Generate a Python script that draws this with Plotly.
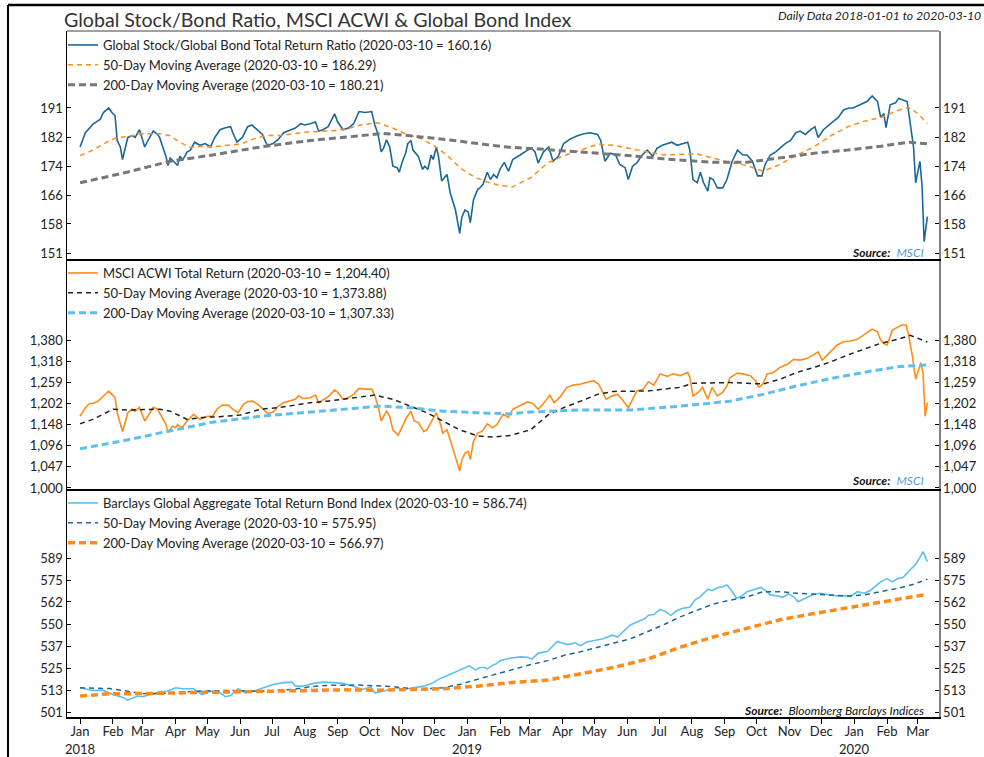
import pandas as pd
import plotly.graph_objects as go

START = pd.Timestamp("2018-01-01")

# ---------------- Panel 1: Global Stock/Bond ratio ----------------
ratio_days = [0,5,9,12,16,19,22,25,27,30,33,35,38,40,42,45,49,52,56,58,61,64,69,73,75,78,81,83,85,88,92,94,97,101,104,108,113,118,123,127,132,137,142,144,148,153,158,162,167,172,175,177,182,187,192,198,203,208,212,217,222,225,229,234,240,243,248,253,258,263,269,275,278,281,284,286,289,292,295,299,301,304,307,309,312,314,319,323,325,328,331,333,336,338,341,346,349,354,358,360,363,366,368,371,375,377,380,384,387,390,393,396,400,404,408,415,422,426,429,432,437,442,446,451,456,462,469,475,481,488,491,495,500,505,509,514,517,521,525,530,535,540,544,549,554,558,563,568,573,575,578,582,585,588,592,594,597,601,606,610,615,620,625,629,634,639,643,646,651,656,660,665,670,675,679,684,689,693,696,701,706,710,715,720,725,729,736,742,747,752,755,758,760,764,769,772,776,780,783,786,788,791,792,794,796,799]
ratio_vals = [179.3,183.5,184.9,186,186.9,187.5,189.6,190.4,191,189.6,188.6,181.2,179.3,175.7,178.4,182.1,182.6,182.1,184.4,182.6,179.3,181.2,184,183,182.1,179.3,176.6,174,176.1,175.2,174,176.6,175.7,177.9,178.4,180.7,179.8,180.3,179.3,182.1,184.4,185,185.3,183.5,180.7,182.1,185.3,185.8,184.4,183,180.7,179.8,180.3,181.6,183.5,184.4,184.9,186.2,185.8,186.2,186.7,184,184.4,185.3,189.2,186.7,184.4,184.9,186.2,189.9,189.6,189.9,185.8,183,177.9,178.8,181.4,179.3,173.8,173.4,172.1,175.2,177.5,180.3,181.2,178.4,176.6,172.9,173.8,172.9,177,175.7,179.3,176.6,169.7,171.5,166.5,161.9,155.9,160,161.9,161.4,158.6,164.6,167.4,167.8,168.8,172.1,170.1,171.5,170.6,172.9,174.9,172.4,175.7,177,178.4,178.9,177.9,174.7,177.9,179.3,175.2,176.6,180.3,181.6,182.6,183.2,183.5,183,181.2,175.2,177.5,177,174.3,173.4,170.1,173.8,174.7,177,178.4,176.6,178.9,179.8,180.3,180.7,179.8,180.3,180.7,178.4,170.1,169.2,172.1,169.2,166.9,170.6,170.1,167.8,167.8,170.1,175.2,178.4,177,177,175.2,171.1,171.1,174.3,177,177.9,178.9,180.3,181.2,183.5,184,183,184.4,185.3,182.1,184.4,185.8,186.7,188.1,190.4,191,191,192,193,194.8,193,188.1,189.3,185,192,192.6,194,193.5,193,186,179.3,169.2,173.8,175.2,168.4,153.8,160.16]

ratio_ma50_days = [0,12,28,35,44,59,75,85,94,104,113,125,139,151,163,176,189,201,214,226,239,252,264,280,295,308,321,333,346,358,371,384,396,408,425,441,456,472,488,503,519,535,550,566,582,597,613,629,644,660,676,692,708,724,739,755,771,781,790,799]
ratio_ma50_vals = [176.8,178.4,181.2,182.1,182.3,183.2,183.2,182.6,180.7,179.2,179.5,179.3,179.8,180.1,181.6,182.7,182.7,183.2,183.7,183.9,184.1,184.7,185.8,186.5,184.9,183,181.8,179.8,177,173.4,170.9,169.4,168.5,168.1,170.6,174.7,176.8,178.4,180.1,179.8,178.9,177.9,177,177.2,177.3,176.1,174.9,174,172.4,174.3,177,179.3,182.6,185.3,186.9,188.1,190.2,191.2,189.3,186.29]

ratio_ma200_days = [0,44,85,125,170,217,264,286,311,342,375,405,425,472,519,550,597,629,660,692,724,755,781,799]
ratio_ma200_vals = [169.2,172.1,175.2,177,179.3,181.2,182.6,183.3,182.6,181.6,180.3,179.2,178.9,177.9,176.8,175.9,174.9,174.9,176.1,177.5,178.4,179.5,180.7,180.21]

# ---------------- Panel 2: MSCI ACWI ----------------
acwi_days = [0,5,9,12,17,22,27,30,33,35,40,42,45,49,52,56,58,61,64,69,73,77,81,83,87,90,92,96,101,107,113,120,125,129,134,140,144,149,154,158,163,168,173,177,182,187,192,198,203,206,210,217,222,225,231,235,240,243,248,253,258,263,269,275,278,281,284,286,289,292,295,300,304,308,312,315,319,324,327,331,333,336,340,342,346,351,354,358,360,363,366,368,371,375,379,384,389,393,399,404,408,415,422,427,432,437,443,447,453,459,465,472,478,484,489,492,496,502,507,511,517,521,525,531,536,541,547,554,559,566,573,575,578,583,587,592,596,601,606,610,613,620,625,632,637,640,644,648,654,660,667,673,679,686,692,696,700,705,709,714,720,726,733,739,747,752,755,758,761,766,771,775,779,781,785,788,791,793,795,797,799]
acwi_vals = [1169,1191,1202,1202,1208,1222,1235,1226,1217,1178,1131,1148,1178,1187,1182,1192,1178,1157,1169,1192,1187,1169,1148,1128,1144,1140,1148,1140,1157,1174,1161,1169,1169,1187,1198,1197,1187,1178,1199,1207,1208,1199,1187,1176,1180,1195,1204,1208,1213,1222,1215,1217,1224,1204,1215,1222,1238,1231,1213,1217,1226,1242,1240,1240,1222,1195,1157,1166,1182,1169,1135,1122,1144,1166,1182,1157,1153,1131,1135,1153,1161,1178,1148,1127,1135,1094,1071,1038,1063,1079,1083,1064,1107,1127,1131,1150,1140,1148,1174,1166,1187,1197,1206,1202,1187,1202,1224,1204,1220,1245,1251,1254,1258,1263,1254,1235,1213,1222,1226,1213,1191,1213,1235,1240,1260,1251,1282,1275,1282,1277,1286,1272,1222,1231,1245,1213,1245,1222,1231,1249,1272,1284,1282,1277,1263,1245,1254,1282,1286,1300,1309,1323,1321,1326,1336,1345,1321,1336,1350,1365,1375,1377,1382,1395,1413,1405,1380,1370,1365,1410,1420,1426,1426,1400,1331,1267,1296,1313,1282,1169,1204.4]

acwi_ma50_days = [0,12,31,44,75,85,101,116,132,151,170,186,201,217,233,248,264,278,295,311,327,342,358,375,390,405,425,441,456,472,488,503,519,535,550,566,578,597,613,629,644,660,676,692,708,724,739,755,771,783,799]
acwi_ma50_vals = [1150,1161,1187,1185,1187,1182,1161,1166,1168,1172,1187,1191,1197,1204,1208,1213,1220,1224,1213,1195,1178,1157,1135,1120,1117,1121,1135,1172,1191,1208,1226,1234,1235,1235,1240,1245,1256,1258,1258,1256,1254,1267,1286,1300,1316,1336,1352,1370,1382,1394,1373.88]

acwi_ma200_days = [0,44,82,123,170,217,264,283,311,342,375,405,425,472,519,566,613,644,676,708,739,771,799]
acwi_ma200_vals = [1089,1110,1131,1153,1169,1180,1191,1195,1191,1182,1178,1175,1180,1185,1185,1195,1208,1226,1249,1269,1286,1302,1307.33]

# ---------------- Panel 3: Barclays Global Aggregate ----------------
bond_days = [0,9,12,22,31,41,45,54,59,66,75,82,90,97,107,115,123,130,137,142,149,156,163,173,182,192,200,203,210,220,229,239,248,258,266,274,278,283,291,299,305,314,324,332,338,346,354,361,367,373,377,382,384,389,392,396,404,415,422,426,432,441,445,450,455,460,467,472,478,486,493,502,507,512,519,526,533,536,541,547,552,557,563,569,575,580,585,592,596,601,606,610,614,619,623,629,635,642,646,651,658,663,668,673,677,684,692,698,706,714,722,726,733,739,745,750,755,761,766,771,776,783,788,792,795,799]
bond_vals = [513.9,513,512.5,512.5,510.3,508.6,507.3,509.5,509.1,510.3,511.6,512,513.9,513.4,513.4,510.3,512,512,509.1,509.8,513.4,511.2,512,513.9,515.7,516.7,517,514.8,514.8,516.3,517,516.7,516.3,514.8,513,514.3,511.2,511.6,512.6,513.9,513,513.9,514.8,516.3,518.5,520.4,522.6,524.1,525.9,523.7,525,525,524.1,526.3,526.9,528.7,530,530.9,530.6,529.6,533,534,536.3,539.6,538.6,537.8,538.8,537.2,539.2,540.1,541.1,543.1,542.1,545.1,549,551,552.8,554.6,555,558,556.9,554.6,557.4,558.8,559.3,563.7,565.6,570,569.1,570.9,571.5,572.5,569.5,564.6,565.5,568.5,569.5,571.1,569.5,566.6,566,565.2,567.2,565.5,562.6,564.6,567,567.6,566.6,566,566,565.5,568.5,567.6,569.1,571.5,574.4,576.4,574.4,576.4,577,581.8,585.2,589.4,593,586.74]

bond_ma50_days = [0,28,59,75,107,139,170,201,217,233,264,295,311,327,342,358,377,393,408,425,441,456,472,488,503,519,535,550,566,582,597,613,629,644,660,676,692,708,724,739,755,771,786,799]
bond_ma50_vals = [513.9,513.5,510.8,510.7,512,512.5,512,513,514.5,515.2,515.4,514.5,513.5,513.4,513.9,515.7,518.9,521.4,524.1,526.6,528.8,531.6,533.8,536.3,538.8,541.1,545.1,549,553.7,557.4,561.2,563.5,565.5,568.5,568.5,567.6,567.2,566.6,566,566.6,568.5,570.5,573,575.95]

bond_ma200_days = [0,28,59,91,123,154,186,217,248,280,311,342,375,405,441,472,503,535,566,597,629,660,692,724,755,771,799]
bond_ma200_vals = [509.5,510.7,510.8,511.2,511.7,512,512.5,512.6,512.8,512.6,513,513.4,514.8,516.7,518.1,521.4,525,529.6,536.3,542.1,547.1,552,555.6,559,562,564,566.97]

# ---------------- Axis ticks ----------------
p1_tickvals = [151, 158.27, 165.88, 173.86, 182.23, 191.0]
p1_ticktext = ["151", "158", "166", "174", "182", "191"]
p2_tickvals = [1000, 1047.1, 1096.4, 1148.0, 1202.1, 1258.7, 1318.0, 1380.0]
p2_ticktext = ["1,000", "1,047", "1,096", "1,148", "1,202", "1,259", "1,318", "1,380"]
p3_tickvals = [501, 512.72, 524.71, 536.98, 549.54, 562.40, 575.2, 589.0]
p3_ticktext = ["501", "513", "525", "537", "550", "562", "575", "589"]

month_ticks = pd.date_range("2018-01-01", "2020-03-01", freq="MS")
month_labels = ["Jan", "Feb", "Mar", "Apr", "May", "Jun", "Jul", "Aug", "Sep", "Oct", "Nov", "Dec",
                "Jan", "Feb", "Mar", "Apr", "May", "Jun", "Jul", "Aug", "Sep", "Oct", "Nov", "Dec",
                "Jan", "Feb", "Mar"]
year_ticks = ["2018-01-01", "2019-01-01", "2020-01-01"]
year_labels = ["2018", "2019", "2020"]

legend_names_1 = ["Global Stock/Global Bond Total Return Ratio (2020-03-10 = 160.16)",
                  "50-Day Moving Average (2020-03-10 = 186.29)",
                  "200-Day Moving Average (2020-03-10 = 180.21)"]
legend_names_2 = ["MSCI ACWI Total Return (2020-03-10 = 1,204.40)",
                  "50-Day Moving Average (2020-03-10 = 1,373.88)",
                  "200-Day Moving Average (2020-03-10 = 1,307.33)"]
legend_names_3 = ["Barclays Global Aggregate Total Return Bond Index (2020-03-10 = 586.74)",
                  "50-Day Moving Average (2020-03-10 = 575.95)",
                  "200-Day Moving Average (2020-03-10 = 566.97)"]

BLUE = "#1B6898"
ORANGE = "#FF8C1A"
GRAY = "#777777"
LIGHT = "#5BC0F0"
DARK = "#222222"
FONT = "Lato, 'Open Sans', sans-serif"


def dates(days):
    return START + pd.to_timedelta(days, unit="D")


fig = go.Figure()

def add(days, vals, name, color, width, dash, xa, ya, leg):
    fig.add_trace(go.Scatter(x=dates(days), y=vals, mode="lines", name=name,
                             line=dict(color=color, width=width, dash=dash),
                             xaxis=xa, yaxis=ya, legend=leg, hoverinfo="skip"))

THIN = "5px,4px"
THICK = "7px,4px"
# panel 1 (top) -> x3 / y3
add(ratio_days, ratio_vals, legend_names_1[0], BLUE, 1.6, "solid", "x3", "y3", "legend")
add(ratio_ma50_days, ratio_ma50_vals, legend_names_1[1], ORANGE, 1.5, THIN, "x3", "y3", "legend")
add(ratio_ma200_days, ratio_ma200_vals, legend_names_1[2], GRAY, 3, THICK, "x3", "y3", "legend")
# panel 2 (middle) -> x2 / y2
add(acwi_days, acwi_vals, legend_names_2[0], ORANGE, 1.6, "solid", "x2", "y2", "legend2")
add(acwi_ma50_days, acwi_ma50_vals, legend_names_2[1], DARK, 1.5, THIN, "x2", "y2", "legend2")
add(acwi_ma200_days, acwi_ma200_vals, legend_names_2[2], LIGHT, 3, THICK, "x2", "y2", "legend2")
# panel 3 (bottom) -> x / y
add(bond_days, bond_vals, legend_names_3[0], LIGHT, 1.6, "solid", "x", "y", "legend3")
add(bond_ma50_days, bond_ma50_vals, legend_names_3[1], BLUE, 1.5, THIN, "x", "y", "legend3")
add(bond_ma200_days, bond_ma200_vals, legend_names_3[2], ORANGE, 3.5, THICK, "x", "y", "legend3")

W, H = 984, 757
L, R, T, B = 67, 939, 31, 717
pw, ph = R - L, B - T

def py(p):
    return (B - p) / ph

def px(p):
    return (p - L) / pw

xrange = ["2017-12-19 16:00", "2020-03-21"]
d1 = [py(259), 1.0]
d2 = [py(489), py(259)]
d3 = [0.0, py(489)]

tickfont = dict(family=FONT, size=13, color="#222222")

def yax(domain, anchor, rng, tv, tt, side="left", overlaying=None, linecolor="black"):
    ax = dict(type="log", range=rng, autorange=False, domain=domain, anchor=anchor,
              tickvals=tv, ticktext=tt, ticks="inside", ticklen=4, tickcolor="black",
              showline=True, linecolor=linecolor, linewidth=1.5, showgrid=False,
              zeroline=False, side=side, tickfont=tickfont, fixedrange=True, automargin=False)
    if overlaying:
        ax["overlaying"] = overlaying
    return ax

r1 = [2.17476, 2.33522]
r2 = [2.99905, 3.21644]
r3 = [2.69756, 2.80161]

fig.update_layout(
    width=W, height=H,
    margin=dict(l=L, r=W - R, t=T, b=H - B, autoexpand=False),
    paper_bgcolor="white", plot_bgcolor="white",
    font=dict(family=FONT, size=13, color="#222222"),
    xaxis=dict(domain=[0, 1], anchor="y", range=xrange, tickvals=month_ticks, ticktext=month_labels,
               ticks="outside", ticklen=5, tickcolor="black", showline=True, linecolor="black",
               linewidth=1.5, showgrid=False, zeroline=False, tickfont=tickfont, tickangle=0,
               automargin=False, fixedrange=True, ticklabelstandoff=-3),
    xaxis2=dict(domain=[0, 1], anchor="y2", matches="x", range=xrange, showticklabels=False,
                ticks="", showline=True, linecolor="black", linewidth=1.5, showgrid=False),
    xaxis3=dict(domain=[0, 1], anchor="y3", matches="x", range=xrange, showticklabels=False,
                ticks="", showline=True, linecolor="black", linewidth=1.5, showgrid=False),
    yaxis=yax(d3, "x", r3, p3_tickvals, p3_ticktext),
    yaxis2=yax(d2, "x2", r2, p2_tickvals, p2_ticktext),
    yaxis3=yax(d1, "x3", r1, p1_tickvals, p1_ticktext),
    yaxis4=yax(d3, "x", r3, p3_tickvals, p3_ticktext, side="right", overlaying="y", linecolor="#808080"),
    yaxis5=yax(d2, "x2", r2, p2_tickvals, p2_ticktext, side="right", overlaying="y2", linecolor="#808080"),
    yaxis6=yax(d1, "x3", r1, p1_tickvals, p1_ticktext, side="right", overlaying="y3", linecolor="#808080"),
    showlegend=True,
)

legfont = dict(family=FONT, size=13, color="#222222")
for key, top in [("legend", 30), ("legend2", 258), ("legend3", 488)]:
    fig.update_layout(**{key: dict(x=px(63), xanchor="left", y=py(top), yanchor="top",
                                   bgcolor="rgba(0,0,0,0)", borderwidth=0, font=legfont,
                                   itemwidth=30, tracegroupgap=0, traceorder="normal")})

# invisible traces to activate the right-hand axes
for ya, xa, v in [("y4", "x", bond_vals[0]), ("y5", "x2", acwi_vals[0]), ("y6", "x3", ratio_vals[0])]:
    fig.add_trace(go.Scatter(x=[dates([0])[0]], y=[v], mode="markers", marker=dict(opacity=0),
                             xaxis=xa, yaxis=ya, showlegend=False, hoverinfo="skip"))

# frame lines
fig.add_shape(type="line", xref="paper", yref="paper", x0=0, x1=1, y0=1, y1=1,
              line=dict(color="#808080", width=1.5))
fig.add_shape(type="line", xref="paper", yref="paper", x0=px(8), x1=px(984), y0=py(5), y1=py(5),
              line=dict(color="black", width=2.5))
fig.add_shape(type="line", xref="paper", yref="paper", x0=px(8), x1=px(8), y0=py(5), y1=py(757),
              line=dict(color="black", width=2))

# year labels under January ticks
for yt, yl in zip(year_ticks, year_labels):
    fig.add_annotation(text=yl, xref="x", yref="paper", x=yt, y=py(749), xanchor="center",
                       yanchor="middle", showarrow=False, font=tickfont, borderpad=0)

# title & subtitle
fig.add_annotation(text="Global Stock/Bond Ratio, MSCI ACWI & Global Bond Index", xref="paper", yref="paper",
                   x=px(62), y=py(19), xanchor="left", yanchor="middle", showarrow=False,
                   font=dict(family=FONT, size=19.6, color="#333333"))
fig.add_annotation(text="<i>Daily Data 2018-01-01 to 2020-03-10</i>", xref="paper", yref="paper",
                   x=px(982), y=py(16), xanchor="right", yanchor="middle", showarrow=False,
                   font=dict(family=FONT, size=12.2, color="#222222"), borderpad=0)

# sources
src_msci = "<b><i>Source:</i></b>  <i><span style='color:#5B9BD5'>MSCI</span></i>"
src_bb = "<b><i>Source:</i></b>  <i>Bloomberg Barclays Indices</i>"
for txt, yy in [(src_msci, 252), (src_msci, 481), (src_bb, 710)]:
    fig.add_annotation(text=txt, xref="paper", yref="paper", x=px(926), y=py(yy),
                       xanchor="right", yanchor="middle", showarrow=False,
                       font=dict(family=FONT, size=12, color="#111111"))

fig.write_html("out.html", config={"displayModeBar": False, "staticPlot": True},
               post_script="document.body.style.margin='0';document.documentElement.style.overflow='hidden';document.body.style.overflow='hidden';")
